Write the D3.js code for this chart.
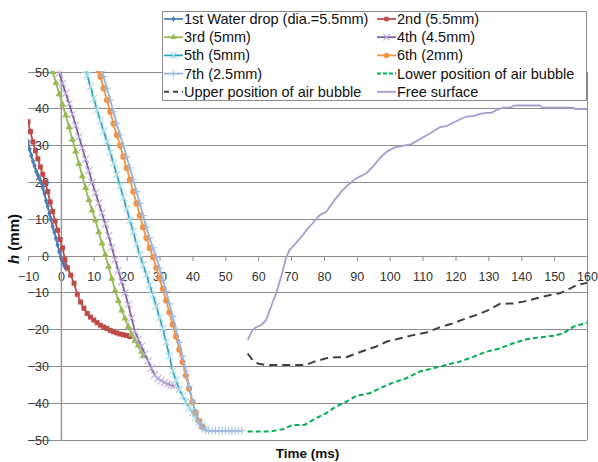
<!DOCTYPE html>
<html><head><meta charset="utf-8">
<script src="https://cdn.jsdelivr.net/npm/d3@7"></script>
<style>body{margin:0;background:#fff}svg{display:block;font-family:"Liberation Sans",Arial,sans-serif}</style>
</head><body><svg id="c" width="598" height="462"></svg>
<script>
// ---------- data ----------
const xTicks = [-10,0,10,20,30,40,50,60,70,80,90,100,110,120,130,140,150,160];
const yTicks = [-50,-40,-30,-20,-10,0,10,20,30,40,50];
const seriesNames = ["1st Water drop (dia.=5.5mm)","2nd (5.5mm)","3rd (5mm)","4th (4.5mm)","5th (5mm)","6th (2mm)","7th (2.5mm)","Lower position of air bubble","Upper position of air bubble","Free surface"];

const t1 = [-10,-9.5,-9,-8.5,-8,-7.5,-7,-6.5,-6,-5.5,-5,-4.5,-4,-3.5,-3,-2.5,-2,-1.5,-1,-0.5,0,0.5,1,1.5];
const h1 = [31,29,27.3,25.8,24.5,23,22,21,20,18.5,17,15,13.5,11.5,10,8,6.5,4.8,3,1.2,-0.5,-1.5,-2.5,-3.3];

const t2 = [-10,-9.25,-8.5,-7.75,-7,-6.25,-5.5,-4.75,-4,-3.25,-2.5,-1.75,-1,-0.25,0.5,1.25,2,3,4,5,6,7,8,9,10,11,12,13,14,15,16,17,18,19,20,21];
const h2 = [36.5,33.8,31,28.6,26.4,24.2,22.2,20,17.5,14.7,12.1,9.5,7,4.5,2.2,-1,-3.2,-5.2,-7.4,-10.4,-12.5,-14.2,-15.6,-16.6,-17.4,-18.1,-18.8,-19.3,-19.7,-20.2,-20.6,-20.9,-21.2,-21.4,-21.6,-21.9];

const t3 = [-2.5,-1.5,-0.5,0.5,1.5,2.5,3.5,4.5,5.5,6.5,7.5,8.5,9.5,10.5,11.5,12.5,13.5,14.5,15.5,16.5,17.5,18.5,19.5,20.5,21.5,22.5,23.5,24.5,25];
const h3 = [50,47,44,41.2,38.2,35,31.6,28.4,25,21.7,18.5,15.2,12.4,9.7,6.5,3.4,0.3,-2.9,-6.2,-9.4,-12.2,-14.8,-17,-19.2,-21.3,-23,-24.3,-26,-27.2];

const t4 = [-0.5,0.5,1.5,2.5,3.5,4.5,5.5,6.5,7.5,8.5,9.5,10.5,11.5,12.5,13.5,14.5,15.5,16.5,17.5,18.5,19.5,20.5,21.5,22.5,23.5,24.5,25.5,26.5,27.5,28.5,29.5,30.5,31.5,32.5,33.5,34.5];
const h4 = [49.7,46.9,44.2,41.4,38.5,35.5,32.4,29.4,26.3,23.2,20,17.2,14.4,11.7,8.7,5.5,2.3,-1,-4,-7,-10,-13.2,-16.8,-20.5,-22.6,-24.5,-26.6,-28.5,-30.5,-32.3,-33.3,-33.9,-34.4,-34.8,-35.1,-35.3];

const t5 = [7.5,8,9,10,11,12,13,14,15,16,17,18,19,20,21,22,23,24,25,26,27,28,29,30,31,32,33,34,35,36,37,38,39,40,41,42,43,44];
const h5 = [50.7,49.1,46,42.8,39.7,36.8,34,31.1,28.2,25.2,22.1,19,15.9,12.8,9.7,6.6,3.4,0.3,-2.4,-5.1,-7.9,-10.6,-13.6,-16.7,-19.7,-23.4,-27.2,-31.2,-33.8,-36.2,-38,-39.6,-41.2,-42.6,-44,-45.2,-46.2,-47];

const t6 = [11.5,12,13,14,15,16,17,18,19,20,21,22,23,24,25,26,27,28,29,30,31,32,33,34,35,36,37,38,39,40,41,42,43];
const h6 = [50.3,48.7,45.6,42.4,39.2,36,32.9,30,27,23.9,20.7,17.5,14.3,11,7.8,4.9,2.2,-0.3,-3.2,-6.1,-9,-12.1,-15.3,-18.6,-21.9,-25.4,-28.8,-32.5,-36.1,-39.6,-42.5,-44.8,-46.4];

const t7 = [12.5,13,14,15,16,17,18,19,20,21,22,23,24,25,26,27,28,29,30,31,32,33,34,35,36,37,38,39,40,41,42,43,44,45,46,47,48,49,50,51,52,53,54,55,56];
const h7 = [50.3,48.7,45.6,42.4,39.2,36,32.9,30,27,23.9,20.7,17.5,14.3,11,7.8,4.9,2.2,-0.3,-3.3,-6.4,-9.6,-13,-16.4,-19.9,-23.5,-27.2,-31.2,-35.4,-39.4,-42.6,-45,-46.6,-47.3,-47.5,-47.5,-47.5,-47.5,-47.5,-47.5,-47.5,-47.5,-47.5,-47.5,-47.5];

const tLower = [56.8,63.5,67.5,70.5,74.1,77.6,80.7,83.7,86.8,89.8,93.9,96.9,101,105.1,109.1,113.2,117.3,121.3,125.4,129.5,133.5,137.6,141.7,145.7,149.8,152.8,155.9,160];
const hLower = [-47.7,-47.7,-47.1,-45.9,-45.9,-44.1,-42.7,-40.9,-39.6,-38,-37.3,-36,-34.4,-33.2,-31.4,-30.5,-29.6,-28.7,-27.4,-26,-25.1,-23.7,-22.6,-22.1,-21.7,-21,-19.2,-18.1];

const tUpper = [56.8,58.3,59.9,62,74.6,77.1,80.7,83.7,86.8,89.8,92.9,95.9,99,103,107.1,111.2,115.2,119.3,123.4,126.4,129.5,133.5,137.6,140.7,144.7,148.8,151.8,154.9,156.9,160];
const hUpper = [-26.5,-28.3,-29.2,-29.6,-29.6,-28.7,-27.8,-27.5,-27.5,-26.5,-25.5,-24.6,-23.3,-22.4,-21.5,-20.8,-19.4,-18.3,-16.9,-16,-14.9,-13,-12.9,-12.4,-11.5,-10.6,-10.1,-8.8,-7.9,-7.3];

const tFree = [56.8,58.3,59.3,60.9,62.4,63.9,65.5,67,68.5,69.5,71,73.6,75.1,76.6,78.7,80.7,83.2,85.3,87.3,89.8,92.9,94.9,96.9,99,101.5,104,106.6,109.1,112.2,115.2,117.3,119.3,121.3,123.4,125.4,127.4,129.5,131,132.5,134.5,136.6,138.1,145.7,146.7,155.9,156.4,160];
const hFree = [-22.8,-20.1,-19.4,-18.75,-17.4,-13.8,-10.1,-5.6,-0.5,1.6,3,5.7,7.5,8.9,11.1,12,15.2,17.5,19.3,21.1,22.5,24.3,26.5,28.3,29.5,29.9,30.4,31.7,33.3,35,35.3,36.2,37.1,37.9,38,38.6,38.9,38.9,39.7,40.3,40.4,40.9,40.9,40.3,40.3,39.9,39.9];

const seriesT = [t1,t2,t3,t4,t5,t6,t7,tLower,tUpper,tFree];
const seriesH = [h1,h2,h3,h4,h5,h6,h7,hLower,hUpper,hFree];

// ---------- styles ----------
const symX = {draw(c,s){const r=Math.sqrt(s)/2;c.moveTo(-r,-r);c.lineTo(r,r);c.moveTo(r,-r);c.lineTo(-r,r);}};
const symPlus = {draw(c,s){const r=Math.sqrt(s)/2;c.moveTo(-r,0);c.lineTo(r,0);c.moveTo(0,-r);c.lineTo(0,r);}};
const symStar = {draw(c,s){const r=Math.sqrt(s)/2;c.moveTo(-r,-r);c.lineTo(r,r);c.moveTo(r,-r);c.lineTo(-r,r);c.moveTo(0,-r*1.2);c.lineTo(0,r*1.2);}};
const styles = [
 {color:"#4a7ebb", sym:d3.symbolDiamond, size:15, fill:"#4a7ebb"},
 {color:"#be4b48", sym:d3.symbolSquare, size:25, fill:"#be4b48"},
 {color:"#98b954", sym:d3.symbolTriangle, size:22, fill:"#98b954"},
 {color:"#7d60a0", sym:symX, size:50, stroke:"#bcaed8"},
 {color:"#2ea3be", sym:symStar, size:50, stroke:"#a8dbe8"},
 {color:"#f39142", sym:d3.symbolCircle, size:30, fill:"#f39142"},
 {color:"#93b2da", sym:symPlus, size:56, stroke:"#9fbbe0"},
 {color:"#00b050", dash:"5,3"},
 {color:"#404040", dash:"8,5"},
 {color:"#a99bcf"}
];

// ---------- chart ----------
const svg = d3.select("#c");
const x = d3.scaleLinear().domain([-10,160]).range([28,587]);
const y = d3.scaleLinear().domain([-50,50]).range([440,72]);
const grid = "#8c8c8c";

svg.append("g").selectAll("line").data(yTicks).join("line")
  .attr("x1",x(-10)).attr("x2",x(160)).attr("y1",d=>y(d)).attr("y2",d=>y(d))
  .attr("stroke",grid).attr("stroke-width",1).attr("shape-rendering","crispEdges");
svg.append("line").attr("x1",x(160)).attr("x2",x(160)).attr("y1",y(50)).attr("y2",y(-50))
  .attr("stroke",grid).attr("shape-rendering","crispEdges");

const xa = svg.append("g").attr("transform",`translate(0,${y(0)})`)
  .call(d3.axisBottom(x).tickValues(xTicks).tickSize(5).tickSizeOuter(0).tickPadding(11).tickFormat(d3.format("d")));
xa.select(".domain").attr("stroke",grid);
xa.selectAll(".tick line").attr("stroke",grid);
xa.selectAll("text").attr("font-size","12.5px").attr("fill","#333").attr("font-family","Liberation Sans, Arial, sans-serif");

const ya = svg.append("g").attr("transform",`translate(${x(0)},0)`)
  .call(d3.axisLeft(y).tickValues(yTicks).tickSize(0).tickSizeOuter(0).tickPadding(12).tickFormat(d3.format("d")));
ya.select(".domain").attr("stroke","#999").attr("stroke-width",1.5);
ya.selectAll("text").attr("font-size","12.5px").attr("fill","#333").attr("font-family","Liberation Sans, Arial, sans-serif");

svg.append("defs").append("clipPath").attr("id","pc").append("rect")
  .attr("x",x(-10)).attr("y",y(50)-1).attr("width",x(160)-x(-10)+1).attr("height",y(-50)-y(50)+2);
const plot = svg.append("g").attr("clip-path","url(#pc)");
const line = d3.line().x(d=>x(d[0])).y(d=>y(d[1]));

seriesT.forEach((ts,i)=>{
  const st = styles[i];
  const pts = ts.map((t,k)=>[t, seriesH[i][k]]);
  const g = plot.append("g");
  g.append("path").attr("d",line(pts)).attr("fill","none").attr("stroke",st.color)
    .attr("stroke-width",st.dash?2:1.8).attr("stroke-dasharray",st.dash||null).attr("stroke-linejoin","round");
  if (st.sym) {
    const sp = d3.symbol().type(st.sym).size(st.size)();
    g.selectAll("path.m").data(pts).join("path").attr("class","m").attr("d",sp)
      .attr("transform",d=>`translate(${x(d[0])},${y(d[1])})`)
      .attr("fill",st.fill||"none").attr("stroke",st.stroke||"none").attr("stroke-width",1.1);
  }
});

// ---------- legend ----------
const lg = svg.append("g");
lg.append("rect").attr("x",162.5).attr("y",11.5).attr("width",424).attr("height",89)
  .attr("fill","#fff").attr("stroke",grid);
seriesNames.forEach((name,i)=>{
  const col = i%2, row = Math.floor(i/2);
  const lx = col===0 ? 164 : 377;
  const ly = 19 + row*18.2;
  const st = styles[i];
  const e = lg.append("g");
  e.append("line").attr("x1",lx).attr("x2",lx+19).attr("y1",ly).attr("y2",ly)
    .attr("stroke",st.color).attr("stroke-width",st.dash?2:1.8).attr("stroke-dasharray",st.dash?(i===8?"5,4":"4,2"):null);
  if (st.sym) {
    e.append("path").attr("d",d3.symbol().type(st.sym).size(st.size*0.8)())
      .attr("transform",`translate(${lx+9.5},${ly})`)
      .attr("fill",st.fill||"none").attr("stroke",st.stroke||"none").attr("stroke-width",1.1);
  }
  e.append("text").attr("x",lx+20).attr("y",ly).attr("dy","0.35em")
    .attr("font-size","14.5px").attr("fill","#111").text(name);
});

// ---------- titles ----------
svg.append("text").attr("x",307.5).attr("y",458).attr("text-anchor","middle")
  .attr("font-size","13.5px").attr("font-weight","bold").attr("fill","#111").text("Time (ms)");
const yt = svg.append("text").attr("transform","translate(19,239) rotate(-90)").attr("text-anchor","middle")
  .attr("font-size","15px").attr("font-weight","bold").attr("fill","#111");
yt.append("tspan").attr("font-style","italic").text("h");
yt.append("tspan").text(" (mm)");
</script></body></html>
